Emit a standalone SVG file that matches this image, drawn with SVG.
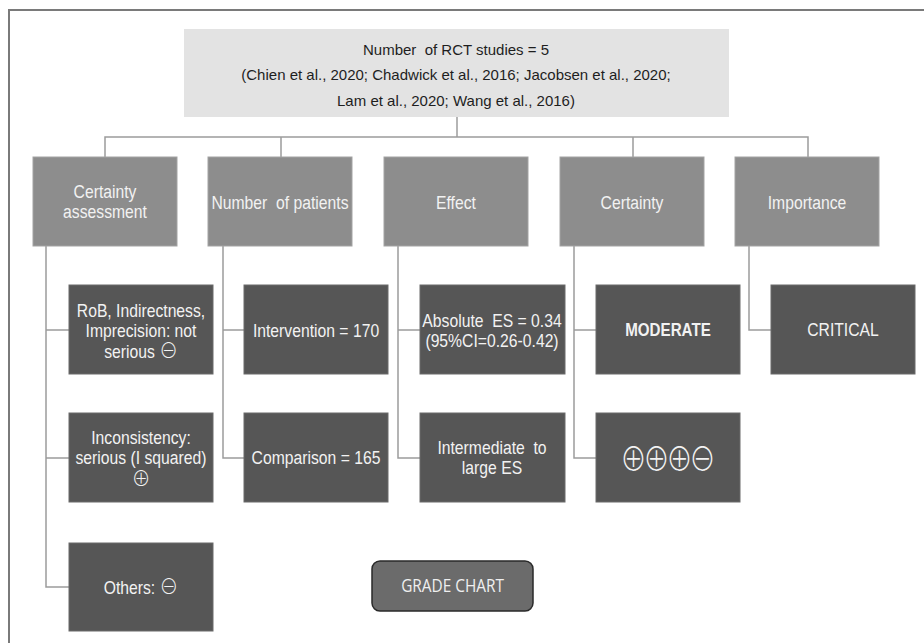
<svg xmlns="http://www.w3.org/2000/svg" width="924" height="643" viewBox="0 0 924 643">
<style>
.frame{fill:none;stroke:#7a7a7a;stroke-width:2}
.conn{fill:none;stroke:#9c9c9c;stroke-width:1.5}
.top{fill:#e3e3e3}
.h{fill:#8d8d8d;stroke:#a3a3a3;stroke-width:1}
.d{fill:#565656;stroke:#6b6b6b;stroke-width:1}
.tt{font-family:"Liberation Sans",Arial,sans-serif;font-size:15px;fill:#1e1e1e;text-anchor:middle}
.lt{font-family:"Liberation Sans","DejaVu Sans",sans-serif;font-size:18.5px;fill:#f2f2f2;text-anchor:middle}
.b{font-weight:bold}
.si{font-family:"Noto Sans CJK JP","DejaVu Sans",sans-serif;font-size:22px;font-weight:300}
.sym{font-family:"Noto Sans CJK JP","DejaVu Sans",sans-serif;font-size:33px;font-weight:300;fill:#f2f2f2;text-anchor:middle}
.btn{fill:#6b6b6b;stroke:#2a2a2a;stroke-width:1.5}
.bt{font-family:"Open Sans","Liberation Sans",sans-serif;font-size:19px;fill:#efefef;text-anchor:middle}
</style>
<rect width="924" height="643" fill="#ffffff"/>
<path class="frame" d="M9,643 V10 H924"/>

<g id="connectors">
<path class="conn" d="M457,117 V137"/>
<path class="conn" d="M105,157 V137 H808 V157"/>
<path class="conn" d="M281,137 V157 M633,137 V157"/>
<path class="conn" d="M46,246 V587 H69 M46,330 H69 M46,458 H69"/>
<path class="conn" d="M223,246 V458 H244 M223,330 H244"/>
<path class="conn" d="M398,246 V458 H420 M398,330 H420"/>
<path class="conn" d="M574,246 V458 H596 M574,330 H596"/>
<path class="conn" d="M749,246 V330 H771"/>
</g>

<g id="root">
<rect class="top" x="184" y="29" width="545" height="88"/>
<text class="tt" x="456" y="55" xml:space="preserve">Number  of RCT studies = 5</text>
<text class="tt" x="456" y="80">(Chien et al., 2020; Chadwick et al., 2016; Jacobsen et al., 2020;</text>
<text class="tt" x="456" y="106">Lam et al., 2020; Wang et al., 2016)</text>
</g>

<g id="h-certainty-assessment">
<rect class="h" x="33" y="157" width="144" height="89"/>
<text class="lt" transform="matrix(0.85,0,0,1,105,0)" x="0" y="198">Certainty</text>
<text class="lt" transform="matrix(0.85,0,0,1,105,0)" x="0" y="218">assessment</text>
</g>
<g id="h-number-patients">
<rect class="h" x="208" y="157" width="144" height="89"/>
<text class="lt" transform="matrix(0.85,0,0,1,280,0)" x="0" y="209" xml:space="preserve">Number  of patients</text>
</g>
<g id="h-effect">
<rect class="h" x="384" y="157" width="144" height="89"/>
<text class="lt" transform="matrix(0.85,0,0,1,456,0)" x="0" y="209">Effect</text>
</g>
<g id="h-certainty">
<rect class="h" x="560" y="157" width="144" height="89"/>
<text class="lt" transform="matrix(0.85,0,0,1,632,0)" x="0" y="209">Certainty</text>
</g>
<g id="h-importance">
<rect class="h" x="735" y="157" width="144" height="89"/>
<text class="lt" transform="matrix(0.85,0,0,1,807,0)" x="0" y="209">Importance</text>
</g>

<g id="rob">
<rect class="d" x="69" y="285" width="144" height="89"/>
<text class="lt" transform="matrix(0.85,0,0,1,141,0)" x="0" y="317">RoB, Indirectness,</text>
<text class="lt" transform="matrix(0.85,0,0,1,141,0)" x="0" y="337">Imprecision: not</text>
<text class="lt" transform="matrix(0.85,0,0,1,141,0)" x="0" y="358">serious <tspan class="si">⊖</tspan></text>
</g>
<g id="inconsistency">
<rect class="d" x="69" y="413" width="144" height="89"/>
<text class="lt" transform="matrix(0.85,0,0,1,141,0)" x="0" y="444">Inconsistency:</text>
<text class="lt" transform="matrix(0.85,0,0,1,141,0)" x="0" y="464">serious (I squared)</text>
<text class="lt" transform="matrix(0.85,0,0,1,141,0)" x="0" y="486"><tspan class="si">⊕</tspan></text>
</g>
<g id="others">
<rect class="d" x="69" y="543" width="144" height="88"/>
<text class="lt" transform="matrix(0.85,0,0,1,141,0)" x="0" y="594">Others: <tspan class="si">⊖</tspan></text>
</g>

<g id="intervention">
<rect class="d" x="244" y="285" width="144" height="89"/>
<text class="lt" transform="matrix(0.85,0,0,1,316,0)" x="0" y="337">Intervention = 170</text>
</g>
<g id="comparison">
<rect class="d" x="244" y="413" width="144" height="89"/>
<text class="lt" transform="matrix(0.85,0,0,1,316,0)" x="0" y="464">Comparison = 165</text>
</g>

<g id="absolute-es">
<rect class="d" x="420" y="285" width="145" height="89"/>
<text class="lt" transform="matrix(0.85,0,0,1,492,0)" x="0" y="327" xml:space="preserve">Absolute  ES = 0.34</text>
<text class="lt" transform="matrix(0.85,0,0,1,492,0)" x="0" y="347">(95%CI=0.26-0.42)</text>
</g>
<g id="intermediate">
<rect class="d" x="420" y="413" width="145" height="89"/>
<text class="lt" transform="matrix(0.85,0,0,1,492,0)" x="0" y="454" xml:space="preserve">Intermediate  to</text>
<text class="lt" transform="matrix(0.85,0,0,1,492,0)" x="0" y="474">large ES</text>
</g>

<g id="moderate">
<rect class="d" x="596" y="285" width="144" height="89"/>
<text class="lt b" transform="matrix(0.82,0,0,1,668,0)" x="0" y="336">MODERATE</text>
</g>
<g id="symbols">
<rect class="d" x="596" y="413" width="144" height="89"/>
<text class="sym" transform="matrix(0.8,0,0,1,668,0)" x="-43.1 -14.4 14.4 43.1" y="471.5">⊕⊕⊕⊖</text>
</g>

<g id="critical">
<rect class="d" x="771" y="285" width="144" height="89"/>
<text class="lt" transform="matrix(0.85,0,0,1,843,0)" x="0" y="336">CRITICAL</text>
</g>

<g id="grade-chart">
<rect class="btn" x="372" y="561" width="161" height="50" rx="8"/>
<text class="bt" transform="matrix(0.81,0,0,1,452.5,0)" x="0" y="592">GRADE CHART</text>
</g>
</svg>
